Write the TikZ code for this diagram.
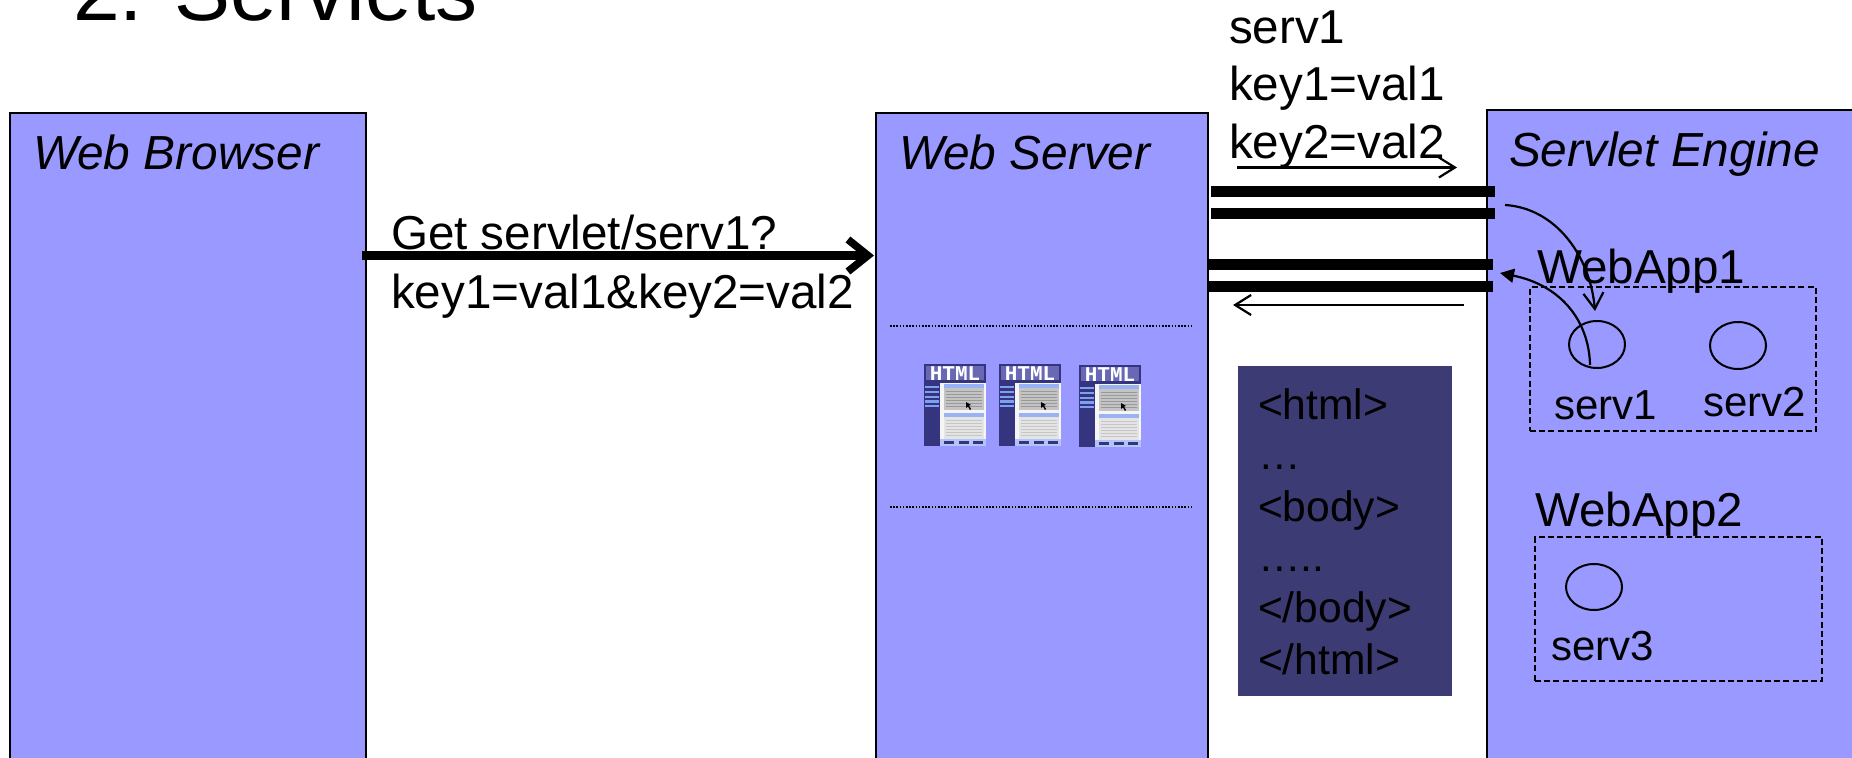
\documentclass[tikz,border=0pt]{standalone}
\usepackage{fontspec}
\setmainfont{Liberation Sans}
\newfontfamily\thumbfont{Liberation Mono}
\usetikzlibrary{arrows.meta,shapes.geometric}
\definecolor{panelblue}{HTML}{9999FF}
\definecolor{darkpanel}{HTML}{3D3B73}
\definecolor{thumbdark}{HTML}{34347F}
\definecolor{thumbhead}{HTML}{6868B4}
\definecolor{thumbbtn}{HTML}{7F9FF0}
\definecolor{thumbgrey}{HTML}{C4C4C4}
\definecolor{thumbpale}{HTML}{E4E4E4}
\newcommand{\fsz}[1]{\fontsize{#1}{#1}\selectfont}
\newcommand{\boxn}[6]{%
  \pgfmathsetmacro{\bcx}{(#3+#5)/2}\pgfmathsetmacro{\bcy}{(#4+#6)/2}%
  \pgfmathsetmacro{\bwd}{(#5-#3)*0.5}\pgfmathsetmacro{\bht}{(#6-#4)*0.5}%
  \node[#2,minimum width=\bwd pt,minimum height=\bht pt] (#1) at (\bcx,\bcy) {};}
\newcommand{\thumb}[3]{%
\begin{scope}[shift={(#2,#3)}]
  \fill[thumbdark] (0,0) rectangle (62,82);
  \fill[thumbhead] (2,2) rectangle (60,16);
  \node[thumbtext] (#1) at (31,9.5) {HTML};
  \fill[white!92!gray] (16,19) rectangle (62,75);
  \fill[thumbgrey] (20,20) rectangle (60,46);
  \fill[thumbpale] (20,49) rectangle (60,75);
  \fill[thumbbtn!80!white] (20,20) rectangle (60,24.5);
  \fill[thumbbtn!80!white] (20,49) rectangle (60,53);
  \foreach \ly in {27,30,33,36,39,42}{\draw[gray!80,line width=0.4pt] (22,\ly) -- (58,\ly);}
  \foreach \ly in {56,59,62,65,68,71}{\draw[gray!45,line width=0.4pt] (22,\ly) -- (58,\ly);}
  \foreach \ly in {23,28,33,37.5,42}{\fill[thumbbtn] (1,\ly-1.3) rectangle (15,\ly+1.3);}
  \fill[thumbbtn!60!white] (16,75) rectangle (62,82);
  \foreach \lx in {20,35,49}{\fill[thumbdark] (\lx,77) rectangle (\lx+10,80);}
  \fill[black] (42,38) -- (42,44) -- (44,42.5) -- (46,46) -- (47,45) -- (45,41.5) -- (47,41) -- cycle;
\end{scope}}
\tikzset{
  panel/.style={draw=black,line width=1pt,fill=panelblue,inner sep=0pt,outer sep=0pt},
  darkbox/.style={fill=darkpanel,inner sep=0pt,outer sep=0pt},
  appbox/.style={draw=black,line width=0.9pt,dash pattern=on 3pt off 1.6pt,inner sep=0pt,outer sep=0pt},
  servlet/.style={draw=black,line width=1pt,shape=ellipse,inner sep=0pt,outer sep=0pt},
  label/.style={anchor=base west,inner sep=0pt,outer sep=0pt,text=black},
  bigtxt/.style={label,font=\fsz{23.8}},
  headtxt/.style={label,font=\fsz{23.9}\itshape},
  smalltxt/.style={label,font=\fsz{21}},
  htmltxt/.style={label,font=\fsz{21.3}},
  titletxt/.style={label,font=\fsz{42}},
  thumbtext/.style={inner sep=0pt,text=white,font=\thumbfont\bfseries\fsz{10.5}},
  busline/.style={line width=5.5pt,black},
  thinarrow/.style={line width=1.1pt,-{Straight Barb[length=8pt,width=10pt,line width=1.1pt]}},
  bigarrow/.style={line width=4.5pt,-{Straight Barb[length=10pt,width=16pt,line width=3.8pt]}},
  curvein/.style={line width=1.1pt,-{Straight Barb[length=8pt,width=10pt,line width=1.1pt]}},
  curveout/.style={line width=1.1pt,-{Triangle[length=7pt,width=7pt]}},
  sep/.style={line width=0.7pt,dash pattern=on 0.8pt off 0.8pt},
}
\begin{document}
\begin{tikzpicture}[x=0.5pt,y=-0.5pt]
\useasboundingbox (0,0) rectangle (1852,758);
\clip (0,0) rectangle (1852,758);
\fill[white] (0,0) rectangle (1852,758);
\node[titletxt] (title) at (73,21) {2. Servlets};
% panels
\boxn{browser}{panel}{10}{113}{366}{800}
\boxn{server}{panel}{876}{113}{1208}{800}
\boxn{engine}{panel}{1487}{110}{1900}{800}
\node[headtxt] (browserlbl) at (33,170) {Web Browser};
\node[headtxt] (serverlbl) at (899,170) {Web Server};
\node[headtxt] (enginelbl) at (1509,167) {Servlet Engine};
% request
\node[bigtxt] (req1) at (391,250) {Get servlet/serv1?};
\node[bigtxt] (req2) at (391,309) {key1=val1\&key2=val2};
\coordinate (reqs) at (362,255.5);
\coordinate (reqe) at (874,255.5);
\draw[bigarrow] (reqs) -- (reqe);
% web server separators
\coordinate (s1a) at (890,326); \coordinate (s1b) at (1192,326);
\coordinate (s2a) at (890,507); \coordinate (s2b) at (1192,507);
\draw[sep] (s1a) -- (s1b);
\draw[sep] (s2a) -- (s2b);
\thumb{t1}{924}{364}
\thumb{t2}{999}{364}
\thumb{t3}{1079}{365}
% params
\node[bigtxt] (p1) at (1229,44) {serv1};
\node[bigtxt] (p2) at (1229,101) {key1=val1};
\node[bigtxt] (p3) at (1229,159) {key2=val2};
\coordinate (fa) at (1237,167.5); \coordinate (fb) at (1457,167.5);
\draw[thinarrow] (fa) -- (fb);
% buses
\coordinate (b1a) at (1211,192); \coordinate (b1b) at (1495,192);
\coordinate (b2a) at (1211,214); \coordinate (b2b) at (1495,214);
\coordinate (b3a) at (1208,264.5); \coordinate (b3b) at (1493,264.5);
\coordinate (b4a) at (1208,286.5); \coordinate (b4b) at (1493,286.5);
\draw[busline] (b1a) -- (b1b);
\draw[busline] (b2a) -- (b2b);
\draw[busline] (b3a) -- (b3b);
\draw[busline] (b4a) -- (b4b);
\coordinate (ra) at (1464,305); \coordinate (rb) at (1233,305);
\draw[thinarrow] (ra) -- (rb);
% html response
\boxn{htmlbox}{darkbox}{1238}{366}{1452}{696}
\node[htmltxt] (h1) at (1258,420) {<html>};
\node[htmltxt] (h2) at (1258,470) {…};
\node[htmltxt] (h3) at (1258,522) {<body>};
\node[htmltxt] (h4) at (1258,572) {…..};
\node[htmltxt] (h5) at (1258,622) {</body>};
\node[htmltxt] (h6) at (1258,674) {</html>};
% web apps
\boxn{app1}{appbox}{1530}{287}{1816}{431}
\boxn{app2}{appbox}{1535}{537}{1822}{681}
\node[bigtxt] (app1lbl) at (1537,284) {WebApp1};
\node[bigtxt] (app2lbl) at (1535,527) {WebApp2};
\boxn{e1}{servlet}{1569}{321}{1625}{368}
\boxn{e2}{servlet}{1710}{322}{1766}{369}
\boxn{e3}{servlet}{1566}{564}{1622}{610}
\node[smalltxt] (s1) at (1554,420) {serv1};
\node[smalltxt] (s2) at (1703,417) {serv2};
\node[smalltxt] (s3) at (1551,661) {serv3};
% internal call
\coordinate (ca) at (1505,205); \coordinate (cb) at (1595,311);
\draw[curvein] (ca) .. controls (1555,208) and (1590,255) .. (cb);
\coordinate (da) at (1590,365); \coordinate (db) at (1500,273);
\draw[curveout] (da) .. controls (1589,320) and (1560,285) .. (db);
\end{tikzpicture}
\end{document}
